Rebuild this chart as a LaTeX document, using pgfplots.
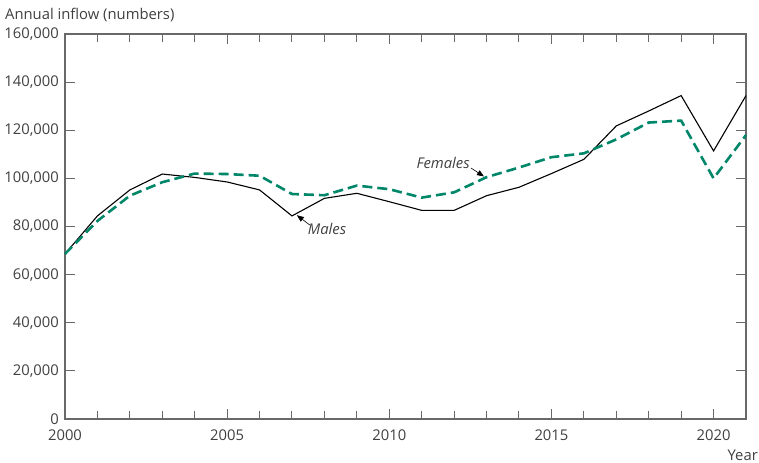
\documentclass[border=0pt]{standalone}
\usepackage{pgfplots}
\pgfplotsset{compat=1.18}
\usetikzlibrary{arrows.meta}
\usepackage{fontspec}
\setmainfont{Open Sans}
\definecolor{femgreen}{RGB}{0,134,104}
\definecolor{txtgray}{RGB}{64,64,64}
\definecolor{axgray}{RGB}{105,105,105}

\begin{document}
\fontsize{14.8bp}{17bp}\selectfont
\begin{tikzpicture}
\path[use as bounding box] (-65bp,-44bp) rectangle (694bp,419bp);
\begin{axis}[
    at={(0,0)}, anchor=south west,
    scale only axis,
    width=681bp, height=385bp,
    xmin=2000, xmax=2021,
    ymin=0, ymax=160000,
    xtick={2000,2005,...,2020},
    xticklabels={2000,2005,2010,2015,2020},
    minor xtick={2001,...,2021},
    ytick={0,20000,...,160000},
    yticklabels={0,{20,000},{40,000},{60,000},{80,000},{100,000},{120,000},{140,000},{160,000}},
    tick align=inside,
    major tick length=10bp, minor tick length=8bp,
    axis line style={axgray, line width=1.1bp},
    every tick/.style={axgray, line width=1bp},
    every minor tick/.style={axgray, line width=1bp},
    scaled y ticks=false,
    tick label style={text=txtgray},
    xticklabel style={yshift=-6bp},
    yticklabel style={xshift=-1bp},
    clip=false,
]
\addplot[black, line width=1.1bp] coordinates {
(2000,68600) (2001,84400) (2002,95200) (2003,101800) (2004,100400)
(2005,98500) (2006,95200) (2007,84400) (2008,91700) (2009,93800)
(2010,90300) (2011,86700) (2012,86700) (2013,92800) (2014,96300)
(2015,102000) (2016,107900) (2017,121800) (2018,128000) (2019,134400)
(2020,111400) (2021,134400)
};
\addplot[femgreen, line width=2.6bp, dash pattern=on 10bp off 5bp] coordinates {
(2000,68600) (2001,82300) (2002,92800) (2003,98400) (2004,102000)
(2005,101800) (2006,101100) (2007,93500) (2008,93000) (2009,97000)
(2010,95500) (2011,92000) (2012,94200) (2013,100500) (2014,104500)
(2015,108800) (2016,110400) (2017,116200) (2018,123200) (2019,124000)
(2020,100000) (2021,118000)
};
\node[font=\itshape, text=txtgray] at (axis cs:2011.66,106400) {Females};
\draw[black, line width=0.6bp, -{Triangle[length=7bp,width=5.5bp]}]
    (axis cs:2012.52,104300) -- (axis cs:2012.92,100800);
\node[font=\itshape, text=txtgray] at (axis cs:2008.08,79000) {Males};
\draw[black, line width=0.6bp, -{Triangle[length=7bp,width=5.5bp]}]
    (axis cs:2007.55,80600) -- (axis cs:2007.15,84700);
\node[anchor=west, inner sep=0pt, text=txtgray]
    at ([xshift=-60bp, yshift=19bp]axis description cs:0,1) {Annual inflow (numbers)};
\node[anchor=east, inner sep=0pt, text=txtgray]
    at ([xshift=12bp, yshift=-36bp]axis description cs:1,0) {Year};
\end{axis}
\end{tikzpicture}
\end{document}
